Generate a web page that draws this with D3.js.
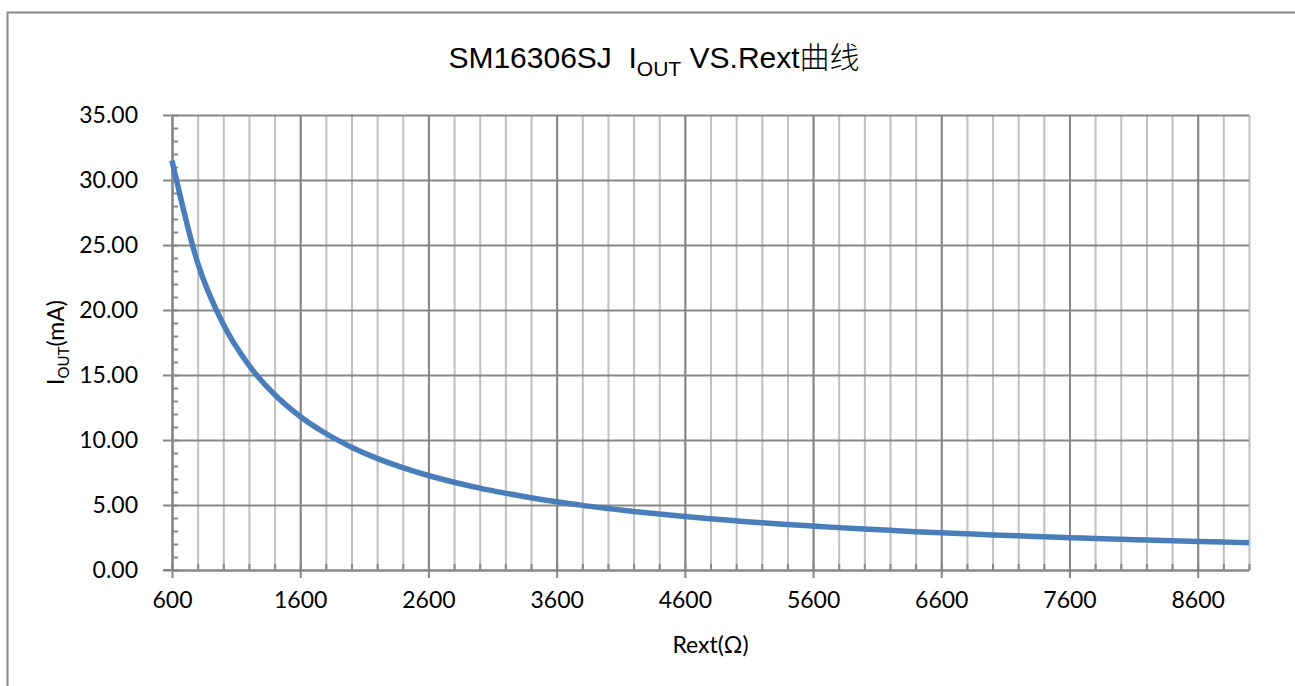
<!DOCTYPE html>
<html>
<head>
<meta charset="utf-8">
<script src="https://cdn.jsdelivr.net/npm/d3@7"></script>
<style>
  html, body { margin: 0; padding: 0; background: #fff; overflow: hidden; }
  svg { display: block; }
</style>
</head>
<body>
<div id="chart"></div>
<script>
// data
const rext = [600, 800, 1000, 1200, 1400, 1600, 1800, 2000, 2200, 2400, 2600, 2800, 3000,
  3200, 3400, 3600, 3800, 4000, 4200, 4400, 4600, 4800, 5000, 5200, 5400, 5600, 5800,
  6000, 6200, 6400, 6600, 6800, 7000, 7200, 7400, 7600, 7800, 8000, 8200, 8400, 8600,
  8800, 9000]
const iout = [31.50, 23.63, 18.90, 15.75, 13.50, 11.81, 10.50, 9.45, 8.59, 7.88, 7.27, 6.75, 6.30,
  5.91, 5.56, 5.25, 4.97, 4.73, 4.50, 4.30, 4.11, 3.94, 3.78, 3.63, 3.50, 3.38, 3.26,
  3.15, 3.05, 2.95, 2.86, 2.78, 2.70, 2.63, 2.55, 2.49, 2.42, 2.36, 2.30, 2.25, 2.20,
  2.15, 2.10]
const xMajorTicks = [600, 1600, 2600, 3600, 4600, 5600, 6600, 7600, 8600]
const xMinorTicks = d3.range(600, 9001, 200)
const yMajorTicks = [0, 5, 10, 15, 20, 25, 30, 35]
const yMinorTicks = d3.range(0, 36, 1)

const W = 1295, H = 686
const plotL = 172, plotR = 1249, plotT = 115, plotB = 570
const majorGrey = "#878787", minorGrey = "#c0c0c0"
const tickFont = "Lato, 'Open Sans', sans-serif"

const svg = d3.select("#chart").append("svg")
  .attr("width", W)
  .attr("height", H)

// outer chart border (runs off the right and bottom edge)
svg.append("rect")
  .attr("x", 7.5).attr("y", 12.5)
  .attr("width", 1310).attr("height", 700)
  .attr("fill", "#fff")
  .attr("stroke", "#888")
  .attr("stroke-width", 2)

const x = d3.scaleLinear().domain([600, 9000]).range([plotL, plotR])
const y = d3.scaleLinear().domain([0, 35]).range([plotB, plotT])

// vertical gridlines, minor first then major
const minorGrid = svg.append("g")
  .attr("transform", `translate(0, ${plotB})`)
  .call(d3.axisBottom(x).tickValues(xMinorTicks).tickSize(-(plotB - plotT)).tickFormat(""))
minorGrid.select(".domain").remove()
minorGrid.selectAll("line").attr("stroke", minorGrey).attr("stroke-width", 2)

const majorGridX = svg.append("g")
  .attr("transform", `translate(0, ${plotB})`)
  .call(d3.axisBottom(x).tickValues(xMajorTicks).tickSize(-(plotB - plotT)).tickFormat(""))
majorGridX.select(".domain").remove()
majorGridX.selectAll("line").attr("stroke", majorGrey).attr("stroke-width", 2)

// horizontal gridlines
const gridY = svg.append("g")
  .attr("transform", `translate(${plotL}, 0)`)
  .call(d3.axisLeft(y).tickValues(yMajorTicks).tickSize(-(plotR - plotL)).tickFormat(""))
gridY.select(".domain").remove()
gridY.selectAll("line").attr("stroke", majorGrey).attr("stroke-width", 2)

// y axis
const yAxis = svg.append("g")
  .attr("transform", `translate(${plotL}, 0)`)
  .call(d3.axisLeft(y).tickValues(yMajorTicks).tickSize(9).tickPadding(25)
    .tickFormat(d3.format(".2f")).tickSizeOuter(0))
yAxis.select(".domain").attr("stroke", majorGrey).attr("stroke-width", 2)
yAxis.selectAll("line").attr("stroke", majorGrey).attr("stroke-width", 2)
yAxis.selectAll("text")
  .attr("font-family", tickFont).attr("font-size", 23).attr("fill", "#000")

const yMinor = svg.append("g")
  .attr("transform", `translate(${plotL}, 0)`)
  .call(d3.axisRight(y).tickValues(yMinorTicks).tickSize(6).tickFormat("").tickSizeOuter(0))
yMinor.select(".domain").remove()
yMinor.selectAll("line").attr("stroke", majorGrey).attr("stroke-width", 2)

// x axis
const xAxis = svg.append("g")
  .attr("transform", `translate(0, ${plotB})`)
  .call(d3.axisBottom(x).tickValues(xMajorTicks).tickSize(8).tickPadding(14)
    .tickFormat(d3.format("d")).tickSizeOuter(0))
xAxis.select(".domain").attr("stroke", majorGrey).attr("stroke-width", 2)
xAxis.selectAll("line").attr("stroke", majorGrey).attr("stroke-width", 2)
xAxis.selectAll("text")
  .attr("font-family", tickFont).attr("font-size", 23).attr("fill", "#000")

const xMinor = svg.append("g")
  .attr("transform", `translate(0, ${plotB})`)
  .call(d3.axisTop(x).tickValues(xMinorTicks).tickSize(6).tickFormat("").tickSizeOuter(0))
xMinor.select(".domain").remove()
xMinor.selectAll("line").attr("stroke", majorGrey).attr("stroke-width", 2)

// extend x axis line to the left tick
svg.append("line")
  .attr("x1", plotL - 9).attr("x2", plotL)
  .attr("y1", plotB).attr("y2", plotB)
  .attr("stroke", majorGrey).attr("stroke-width", 2)

// curve
const points = rext.map((r, i) => ({ r, v: iout[i] }))
svg.append("path")
  .datum(points)
  .attr("fill", "none")
  .attr("stroke", "#4a7ebb")
  .attr("stroke-width", 5.5)
  .attr("d", d3.line().x(d => x(d.r)).y(d => y(d.v)).curve(d3.curveMonotoneX))

// title
const title = svg.append("text")
  .attr("x", 654).attr("y", 68)
  .attr("text-anchor", "middle")
  .attr("font-family", "'Liberation Sans', Arial, 'Noto Sans CJK SC', sans-serif")
  .attr("font-size", 30)
  .attr("fill", "#000")
title.append("tspan").text("SM16306SJ\u00a0\u00a0I")
title.append("tspan").attr("font-size", 21).attr("dy", 8).text("OUT")
title.append("tspan").attr("dy", -8).text(" VS.Rext")
title.append("tspan").attr("font-family", "'Noto Sans CJK SC', sans-serif")
  .attr("font-weight", 300).text("曲线")

// axis titles
svg.append("text")
  .attr("x", (plotL + plotR) / 2).attr("y", 653)
  .attr("text-anchor", "middle")
  .attr("font-family", tickFont).attr("font-size", 23).attr("fill", "#000")
  .text("Rext(Ω)")

const yTitle = svg.append("text")
  .attr("transform", `translate(64, ${(plotT + plotB) / 2}) rotate(-90)`)
  .attr("text-anchor", "middle")
  .attr("font-family", tickFont).attr("font-size", 23).attr("fill", "#000")
yTitle.append("tspan").text("I")
yTitle.append("tspan").attr("font-size", 15).attr("dy", 5).text("OUT")
yTitle.append("tspan").attr("dy", -5).text("(mA)")
</script>
</body>
</html>
